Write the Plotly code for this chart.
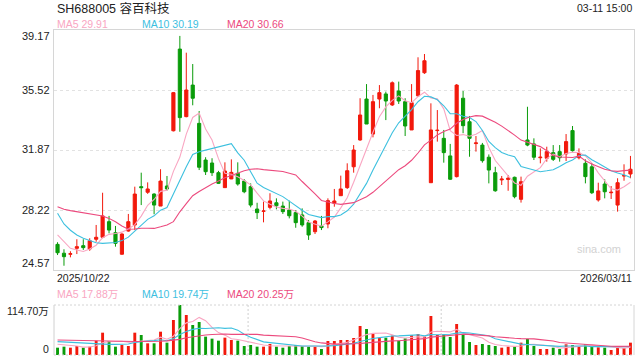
import plotly.graph_objects as go
import pandas as pd

# ---------------- data ----------------
title_text = "SH688005 容百科技"
time_text = "03-11 15:00"
first_date = "2025/10/22"
last_date = "2026/03/11"

opens = [26.13, 25.59, 25.53, 25.89, 26.05, 25.85, 26.44, 26.56, 27.51, 26.84,
         25.53, 26.94, 27.31, 29.64, 29.30, 29.19, 28.46, 29.68, 33.04, 38.01,
         33.90, 35.82, 33.49, 31.26, 31.08, 30.49, 29.58, 30.11, 30.45, 29.98,
         29.64, 28.28, 28.14, 28.38, 28.66, 28.46, 28.22, 28.06, 27.92, 27.45,
         26.90, 27.25, 27.37, 28.63, 29.09, 29.58, 30.85, 32.48, 34.97, 32.84,
         34.97, 35.28, 34.61, 35.46, 34.81, 33.09, 35.17, 36.57, 29.88, 33.05,
         32.58, 31.51, 30.25, 35.02, 33.59, 32.26, 32.17, 31.43, 30.49, 30.05,
         30.08, 30.21, 28.87, 32.48, 32.24, 31.40, 31.37, 31.71, 31.77, 31.63,
         33.05, 31.40, 31.06, 30.85, 28.83, 29.80, 29.27, 28.52, 30.29, 30.41]
highs = [26.26, 25.83, 25.71, 26.44, 26.44, 26.50, 27.31, 29.27, 27.86, 27.25,
         26.80, 27.98, 29.64, 30.49, 29.90, 29.24, 30.70, 30.29, 35.40, 38.81,
         37.79, 37.10, 34.24, 31.43, 31.37, 30.60, 31.12, 31.30, 31.12, 30.10,
         29.84, 28.66, 28.73, 29.24, 28.93, 28.73, 28.79, 28.22, 28.32, 27.61,
         27.61, 27.86, 28.93, 29.50, 30.31, 31.06, 32.17, 35.02, 35.88, 35.22,
         35.82, 35.42, 36.04, 36.03, 35.02, 35.88, 37.51, 37.71, 34.71, 34.30,
         33.09, 32.24, 35.88, 35.46, 33.94, 32.72, 32.30, 31.60, 30.85, 30.29,
         30.35, 30.25, 30.25, 34.50, 32.58, 31.97, 32.07, 32.17, 32.17, 32.84,
         33.33, 31.97, 31.30, 31.06, 29.88, 30.09, 29.68, 30.15, 31.00, 31.51]
lows = [25.48, 24.83, 25.34, 25.54, 25.79, 25.74, 26.29, 26.50, 26.80, 25.99,
        25.50, 26.90, 27.00, 28.52, 29.20, 27.96, 28.46, 29.40, 33.00, 32.98,
        33.86, 34.59, 30.65, 30.35, 30.29, 29.80, 29.58, 30.10, 29.70, 29.24,
        28.38, 27.67, 27.47, 28.26, 28.26, 27.98, 27.71, 27.14, 27.20, 26.40,
        26.76, 27.00, 27.11, 28.42, 29.09, 29.50, 30.49, 32.43, 33.45, 32.64,
        34.41, 33.69, 34.55, 34.67, 32.72, 33.09, 35.10, 36.50, 29.88, 32.38,
        31.10, 30.05, 30.20, 32.89, 31.46, 31.77, 31.10, 29.84, 29.33, 29.74,
        29.39, 28.93, 28.67, 32.10, 31.26, 31.06, 31.16, 31.20, 31.16, 31.20,
        31.77, 31.30, 29.84, 29.19, 28.73, 28.93, 28.89, 28.12, 30.00, 30.15]
closes = [25.62, 25.38, 25.56, 25.99, 25.93, 26.35, 26.56, 27.86, 27.00, 26.19,
          26.76, 27.51, 29.19, 29.58, 29.50, 28.52, 29.98, 29.50, 35.36, 33.84,
          35.52, 35.02, 30.82, 30.55, 30.49, 29.84, 30.59, 30.51, 29.80, 29.33,
          28.52, 28.06, 28.16, 28.77, 28.48, 28.12, 27.87, 27.45, 27.31, 26.70,
          27.55, 27.15, 28.79, 28.77, 29.50, 30.61, 31.87, 34.00, 33.45, 34.81,
          35.36, 34.85, 35.96, 34.85, 33.33, 34.75, 36.70, 37.30, 33.09, 33.07,
          31.71, 30.09, 35.82, 33.35, 32.58, 32.30, 31.22, 30.65, 29.39, 30.10,
          30.15, 29.03, 29.94, 32.17, 31.43, 31.43, 31.77, 31.30, 31.40, 32.38,
          31.83, 31.67, 30.25, 29.27, 29.38, 29.33, 29.30, 29.88, 30.31, 30.70]
# volume in 万 (10k shares)
volumes = [16.8, 19.1, 16.8, 20.6, 16.8, 19.1, 32.9, 51.2, 32.1, 19.1,
           22.9, 20.6, 51.2, 45.9, 26.8, 26.8, 53.5, 28.3, 80.3, 114.7,
           91.8, 68.8, 75.7, 42.1, 37.5, 32.9, 39.8, 34.4, 32.9, 20.6,
           22.9, 19.1, 19.1, 25.2, 19.1, 16.8, 20.6, 22.9, 20.6, 19.1,
           19.1, 13.8, 32.1, 32.1, 34.4, 34.4, 39.0, 66.5, 59.6, 48.2,
           39.0, 39.8, 44.4, 32.9, 38.2, 45.9, 48.2, 42.1, 89.5, 45.9,
           45.9, 41.3, 71.1, 45.9, 29.8, 22.9, 25.2, 22.9, 20.6, 16.8,
           19.1, 19.1, 28.3, 36.7, 20.6, 13.8, 13.8, 16.8, 13.8, 24.5,
           22.9, 20.6, 24.5, 20.6, 17.6, 16.8, 11.5, 16.8, 16.1, 28.3]

# moving-average values before enough bars are visible
ma5_head = [26.70, 26.29, 25.89, 25.79]
ma10_head = [28.02, 27.37, 26.99, 26.70, 26.50, 26.35, 26.23, 26.19, 26.23]
ma20_head = [28.42, 28.26, 28.18, 28.12, 28.06, 28.02, 27.96, 27.86, 27.71, 27.51,
             27.25, 27.05, 27.06, 27.11, 27.11, 27.10, 27.20, 27.31, 27.51]
vma5_head = [24.5, 23.5, 22.0, 20.5]
vma10_head = [30.6, 29.8, 28.5, 27.5, 26.5, 25.5, 25.0, 24.6, 24.4]
vma20_head = [34.4, 34.0, 33.6, 33.2, 32.8, 32.5, 32.2, 32.0, 31.8, 31.6,
              31.4, 31.2, 31.0, 30.8, 30.6, 30.8, 31.5, 32.5, 34.0]

price_ticks = [24.57, 28.22, 31.87, 35.52, 39.17]
vol_top_label = "114.70万"
vol_max = 114.70
ma_legend = ["MA5 29.91", "MA10 30.19", "MA20 30.66"]
vma_legend = ["MA5 17.88万", "MA10 19.74万", "MA20 20.25万"]

# ---------------- styles ----------------
RED = "#f2190c"
GREEN = "#0a9c0a"
C_MA5 = "#f9a6c2"
C_MA10 = "#3dc0df"
C_MA20 = "#ec4a7e"
FONT = "Liberation Sans, Arial, Noto Sans CJK SC, sans-serif"
W, H = 640, 360
ML, MR = 54, 6
PW = W - ML - MR


def px_x(px):
    return (px - ML) / PW


def px_y(py):
    return 1 - py / H


def ma(values, window, head):
    vals = pd.Series(values).rolling(window).mean().tolist()
    for i, h in enumerate(head):
        vals[i] = h
    return vals


n = len(closes)
xs = list(range(n))
ma5 = ma(closes, 5, ma5_head)
ma10 = ma(closes, 10, ma10_head)
ma20 = ma(closes, 20, ma20_head)
vma5 = ma(volumes, 5, vma5_head)
vma10 = ma(volumes, 10, vma10_head)
vma20 = ma(volumes, 20, vma20_head)
vol_colors = [RED if c >= o else GREEN for o, c in zip(opens, closes)]

fig = go.Figure()
fig.add_trace(go.Candlestick(
    x=xs, open=opens, high=highs, low=lows, close=closes,
    increasing=dict(line=dict(color=RED, width=1), fillcolor=RED),
    decreasing=dict(line=dict(color=GREEN, width=1), fillcolor=GREEN),
    whiskerwidth=0, hoverinfo="skip", xaxis="x", yaxis="y"))
for vals, col in [(ma5, C_MA5), (ma10, C_MA10), (ma20, C_MA20)]:
    fig.add_trace(go.Scatter(x=xs, y=vals, mode="lines",
                             line=dict(color=col, width=1.1),
                             hoverinfo="skip", xaxis="x", yaxis="y"))
fig.add_trace(go.Bar(x=xs, y=volumes, marker=dict(color=vol_colors, line=dict(width=0)),
                     width=0.45, hoverinfo="skip", xaxis="x2", yaxis="y2"))
for vals, col in [(vma5, C_MA5), (vma10, C_MA10), (vma20, C_MA20)]:
    fig.add_trace(go.Scatter(x=xs, y=vals, mode="lines",
                             line=dict(color=col, width=1.1),
                             hoverinfo="skip", xaxis="x2", yaxis="y2"))

xr = [-0.55, n - 1 + 0.55]
main_dom = [px_y(270), px_y(30)]
vol_dom = [px_y(355), px_y(305)]

fig.update_layout(
    width=W, height=H,
    margin=dict(l=ML, r=MR, t=0, b=0),
    paper_bgcolor="white", plot_bgcolor="white",
    showlegend=False, hovermode=False,
    font=dict(family=FONT, color="#333"),
    xaxis=dict(domain=[0, 1], range=xr, anchor="y", showgrid=False, zeroline=False,
               showticklabels=False, ticks="", showline=True, mirror=True,
               linecolor="#d6d6d6", linewidth=1, rangeslider=dict(visible=False)),
    yaxis=dict(domain=main_dom, range=[price_ticks[0], price_ticks[-1]], anchor="x",
               tickvals=price_ticks[1:-1], showticklabels=False, ticks="",
               showgrid=True, gridcolor="#e2e2e2", gridwidth=1, griddash="3px,3px",
               zeroline=False, showline=True, mirror=True, linecolor="#d6d6d6", linewidth=1),
    xaxis2=dict(domain=[0, 1], range=xr, anchor="y2", matches="x", showgrid=False,
                zeroline=False, showticklabels=False, ticks="", showline=False),
    yaxis2=dict(domain=vol_dom, range=[0, vol_max], anchor="x2", showgrid=False,
                zeroline=False, showticklabels=False, ticks="", showline=False),
)

shapes = []
# volume panel frame
shapes.append(dict(type="line", xref="paper", yref="paper", x0=0, x1=0,
                   y0=vol_dom[0], y1=vol_dom[1], line=dict(color="#d0d0d0", width=1)))
shapes.append(dict(type="line", xref="paper", yref="paper", x0=1, x1=1,
                   y0=vol_dom[0], y1=vol_dom[1], line=dict(color="#d6d6d6", width=1)))
for yy in vol_dom:
    shapes.append(dict(type="line", xref="paper", yref="paper", x0=0, x1=1,
                       y0=yy, y1=yy, line=dict(color="#d4d4d4", width=1, dash="2px,2px")))
for vx in [29.6, 59.6]:
    shapes.append(dict(type="line", xref="x2", yref="paper", x0=vx, x1=vx,
                       y0=vol_dom[0], y1=vol_dom[1],
                       line=dict(color="#cfcfcf", width=1, dash="2px,2px")))
fig.update_layout(shapes=shapes)

ann = []


def text(px, py, s, size, color="#333", anchor="left"):
    ann.append(dict(xref="paper", yref="paper", x=px_x(px), y=px_y(py), text=s,
                    showarrow=False, xanchor=anchor, yanchor="middle",
                    font=dict(size=size, color=color, family=FONT)))


text(55, 8, title_text, 12.5, "#222")
text(634, 8, time_text, 10.5, "#222", "right")
for s, xp, col in zip(ma_legend, [55, 140, 225], [C_MA5, C_MA10, C_MA20]):
    text(xp, 24, s, 10.5, col)
for s, xp, col in zip(vma_legend, [55, 140, 225], [C_MA5, C_MA10, C_MA20]):
    text(xp, 294, s, 10.5, col)
label_y = [263, 210, 149, 90, 36]
for v, py in zip(price_ticks, label_y):
    text(52, py, f"{v:.2f}", 11, "#222", "right")
text(50.5, 311, vol_top_label, 10.5, "#222", "right")
text(50.5, 349, "0", 10.5, "#222", "right")
text(55, 278, first_date, 10.5, "#222")
text(634, 278, last_date, 10.5, "#222", "right")
text(623, 249, "sina.com", 11, "#d2d2d2", "right")
fig.update_layout(annotations=ann)

fig.write_html("out.html")
